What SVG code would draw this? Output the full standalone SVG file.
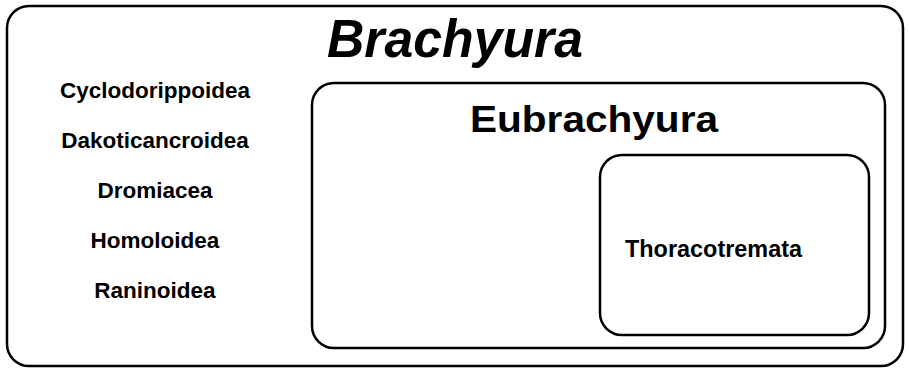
<svg xmlns="http://www.w3.org/2000/svg" width="909" height="368" viewBox="0 0 909 368">
<style>
.box{fill:none;stroke:#000;stroke-width:2.5}
.t{font-family:"Liberation Sans",Arial,sans-serif;font-weight:bold;fill:#000}
.lbl{font-size:22.5px;text-anchor:middle}
</style>
<rect width="909" height="368" fill="#fff"/>
<g id="brachyura">
<rect class="box" x="7" y="6" width="896" height="360" rx="22"/>
<text class="t" x="455" y="57" font-size="53" font-style="italic" text-anchor="middle" textLength="256" lengthAdjust="spacingAndGlyphs">Brachyura</text>
</g>
<g id="cyclodorippoidea"><text class="t lbl" x="155" y="98">Cyclodorippoidea</text></g>
<g id="dakoticancroidea"><text class="t lbl" x="155" y="148">Dakoticancroidea</text></g>
<g id="dromiacea"><text class="t lbl" x="155" y="198">Dromiacea</text></g>
<g id="homoloidea"><text class="t lbl" x="155" y="248">Homoloidea</text></g>
<g id="raninoidea"><text class="t lbl" x="155" y="298">Raninoidea</text></g>
<g id="eubrachyura">
<rect class="box" x="312" y="83" width="573" height="265" rx="22"/>
<text class="t" x="470" y="132" font-size="36" textLength="248" lengthAdjust="spacingAndGlyphs">Eubrachyura</text>
</g>
<g id="thoracotremata">
<rect class="box" x="600" y="155" width="269" height="180" rx="22"/>
<text class="t" x="625" y="257" font-size="23" textLength="177" lengthAdjust="spacingAndGlyphs">Thoracotremata</text>
</g>
<g id="connectors"/>
</svg>
